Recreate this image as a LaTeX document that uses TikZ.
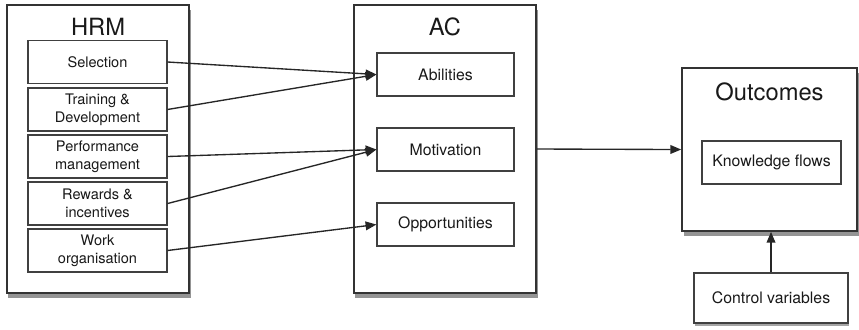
\documentclass[tikz,border=0pt]{standalone}
\usepackage{fontspec}
\setmainfont{TeX Gyre Heros}
\usetikzlibrary{arrows.meta,shadows}

\begin{document}
\begin{tikzpicture}[
  >={Triangle[length=3.6mm,width=2.9mm]},
  grp/.style={rectangle,draw=black!80,fill=white,line width=0.55mm,
              minimum width=6.07cm,minimum height=9.6cm,
              drop shadow={opacity=0.6,fill=black!70,shadow xshift=0.05cm,shadow yshift=-0.15cm}},
  item/.style={rectangle,draw=black!75,fill=white,line width=0.4mm,
               minimum width=4.63cm,minimum height=1.43cm,align=center,inner sep=1pt,
               text=black!90,font=\fontsize{13.8}{17}\selectfont},
  big/.style={item,font=\fontsize{15}{18}\selectfont},
  ttl/.style={text=black!90,font=\fontsize{22.5}{26}\selectfont},
  lnk/.style={->,line width=0.45mm,draw=black!85},
]
  \useasboundingbox (0,0) rectangle (28.633,10.967);

  % HRM practices (left)
  \node[grp] (hrm) at (3.267,6.0) {};
  \node[ttl] (hrmt) at (3.267,10.083) {HRM};
  \node[item] (sel) at (3.25,8.9) {Selection};
  \node[item] (train) at (3.25,7.317) {Training \&\\Development};
  \node[item] (perf) at (3.25,5.75) {Performance\\management};
  \node[item] (rew) at (3.25,4.183) {Rewards \&\\incentives};
  \node[item] (work) at (3.25,2.617) {Work\\organisation};

  % absorptive capacity (middle)
  \node[grp] (ac) at (14.833,6.0) {};
  \node[ttl] (act) at (14.833,10.083) {AC};
  \node[big,minimum width=4.567cm] (abil) at (14.85,8.483) {Abilities};
  \node[big,minimum width=4.567cm] (motiv) at (14.85,5.983) {Motivation};
  \node[big,minimum width=4.567cm] (opp) at (14.85,3.483) {Opportunities};

  % outcomes (right)
  \node[grp,minimum width=5.833cm,minimum height=5.433cm] (out) at (25.65,5.983) {};
  \node[ttl] (outt) at (25.65,7.917) {Outcomes};
  \node[big] (know) at (25.717,5.55) {Knowledge flows};
  \node[big,minimum width=5.133cm,minimum height=1.667cm,
        drop shadow={opacity=0.5,fill=black!70,shadow xshift=0.03cm,shadow yshift=-0.1cm}]
        (ctrl) at (25.7,1.033) {Control variables};

  % links
  \draw[lnk] (sel.east) -- (abil.west);
  \draw[lnk] (train.east) -- (abil.west);
  \draw[lnk] (perf.east) -- (motiv.west);
  \draw[lnk] (rew.east) -- (motiv.west);
  \draw[lnk] (work.east) -- (opp.west);
  \draw[lnk] (ac.east) -- (out.west);
  \draw[lnk] (ctrl.north) -- (ctrl.north |- out.south);
\end{tikzpicture}
\end{document}
